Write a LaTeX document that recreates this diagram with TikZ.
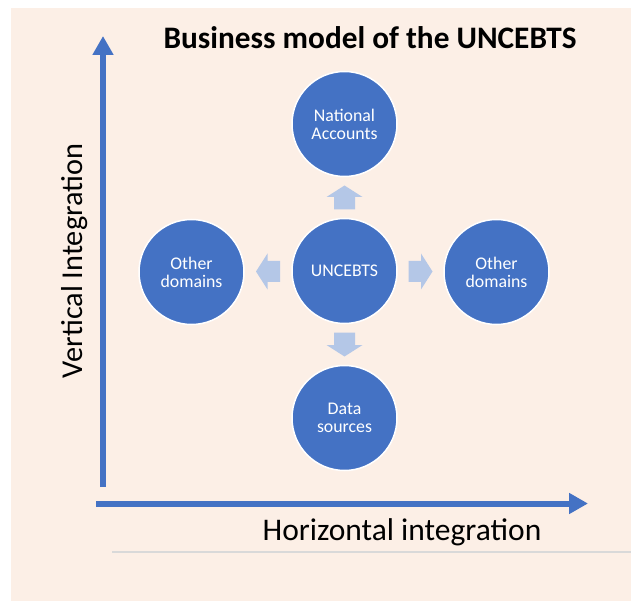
\documentclass[tikz,border=0pt]{standalone}
\usepackage{fontspec}
\setmainfont{Carlito}
\usetikzlibrary{arrows.meta,calc}
\definecolor{bgc}{HTML}{FCEFE6}
\definecolor{bluec}{HTML}{4472C4}
\definecolor{blockc}{HTML}{B4C7E7}
\definecolor{linec}{HTML}{D9D9D9}
\tikzset{
  circ/.style={circle, fill=bluec, draw=white, line width=1.5pt, minimum size=105pt, inner sep=0pt,
    text=white, align=center, font=\fontsize{17.8}{18}\selectfont},
  axis/.style={draw=bluec, line width=6pt, -{Triangle[length=19pt,width=20pt]}},
  blk/.pic={\fill[blockc] (-12,-10.5) -- (0.5,-10.5) -- (0.5,-18) -- (12,0) -- (0.5,18) -- (0.5,10.5) -- (-12,10.5) -- cycle;},
  lbl/.style={font=\fontsize{31.5}{33}\selectfont, inner sep=0pt}
}
\begin{document}
\begin{tikzpicture}[x=1pt,y=-1pt]
\useasboundingbox (0,0) rectangle (631,601);
\fill[white] (0,0) rectangle (631,601);
\fill[bgc] (11,8) rectangle (631,601);
% title
\node[font=\fontsize{31.3}{33}\selectfont\bfseries, anchor=base, inner sep=0pt] (title) at (370,49) {Business model of the UNCEBTS};
% circles
\node[circ] (c) at (344.5,271) {UNCEBTS};
\node[circ] (na) at (344.5,124) {National\\Accounts};
\node[circ] (ds) at (344.5,418) {Data\\sources};
\node[circ] (od1) at (191.5,272) {Other\\domains};
\node[circ] (od2) at (496.5,272) {Other\\domains};
% block arrows
\pic[rotate=90] at ($(c.north)!0.5!(na.south)$) {blk};
\pic[rotate=-90] at ($(c.south)!0.5!(ds.north)$) {blk};
\pic[rotate=180] at ($(c.west)!0.5!(od1.east)$) {blk};
\pic at ($(c.east)!0.5!(od2.west)$) {blk};
% axes
\coordinate (o1) at (103,487);
\coordinate (vt) at (103,36);
\coordinate (o2) at (96,503.5);
\coordinate (ht) at (588,503.5);
\draw[axis] (o1) -- (vt);
\draw[axis] (o2) -- (ht);
\node[lbl, anchor=base] (hl) at (402,540) {Horizontal integration};
\node[lbl, anchor=base, rotate=90, font=\fontsize{30.3}{32}\selectfont] (vl) at (82,261) {Vertical Integration};
% gray line
\coordinate (g1) at (112,552);
\coordinate (g2) at (631,552);
\draw[linec, line width=2pt] (g1) -- (g2);
\end{tikzpicture}
\end{document}
